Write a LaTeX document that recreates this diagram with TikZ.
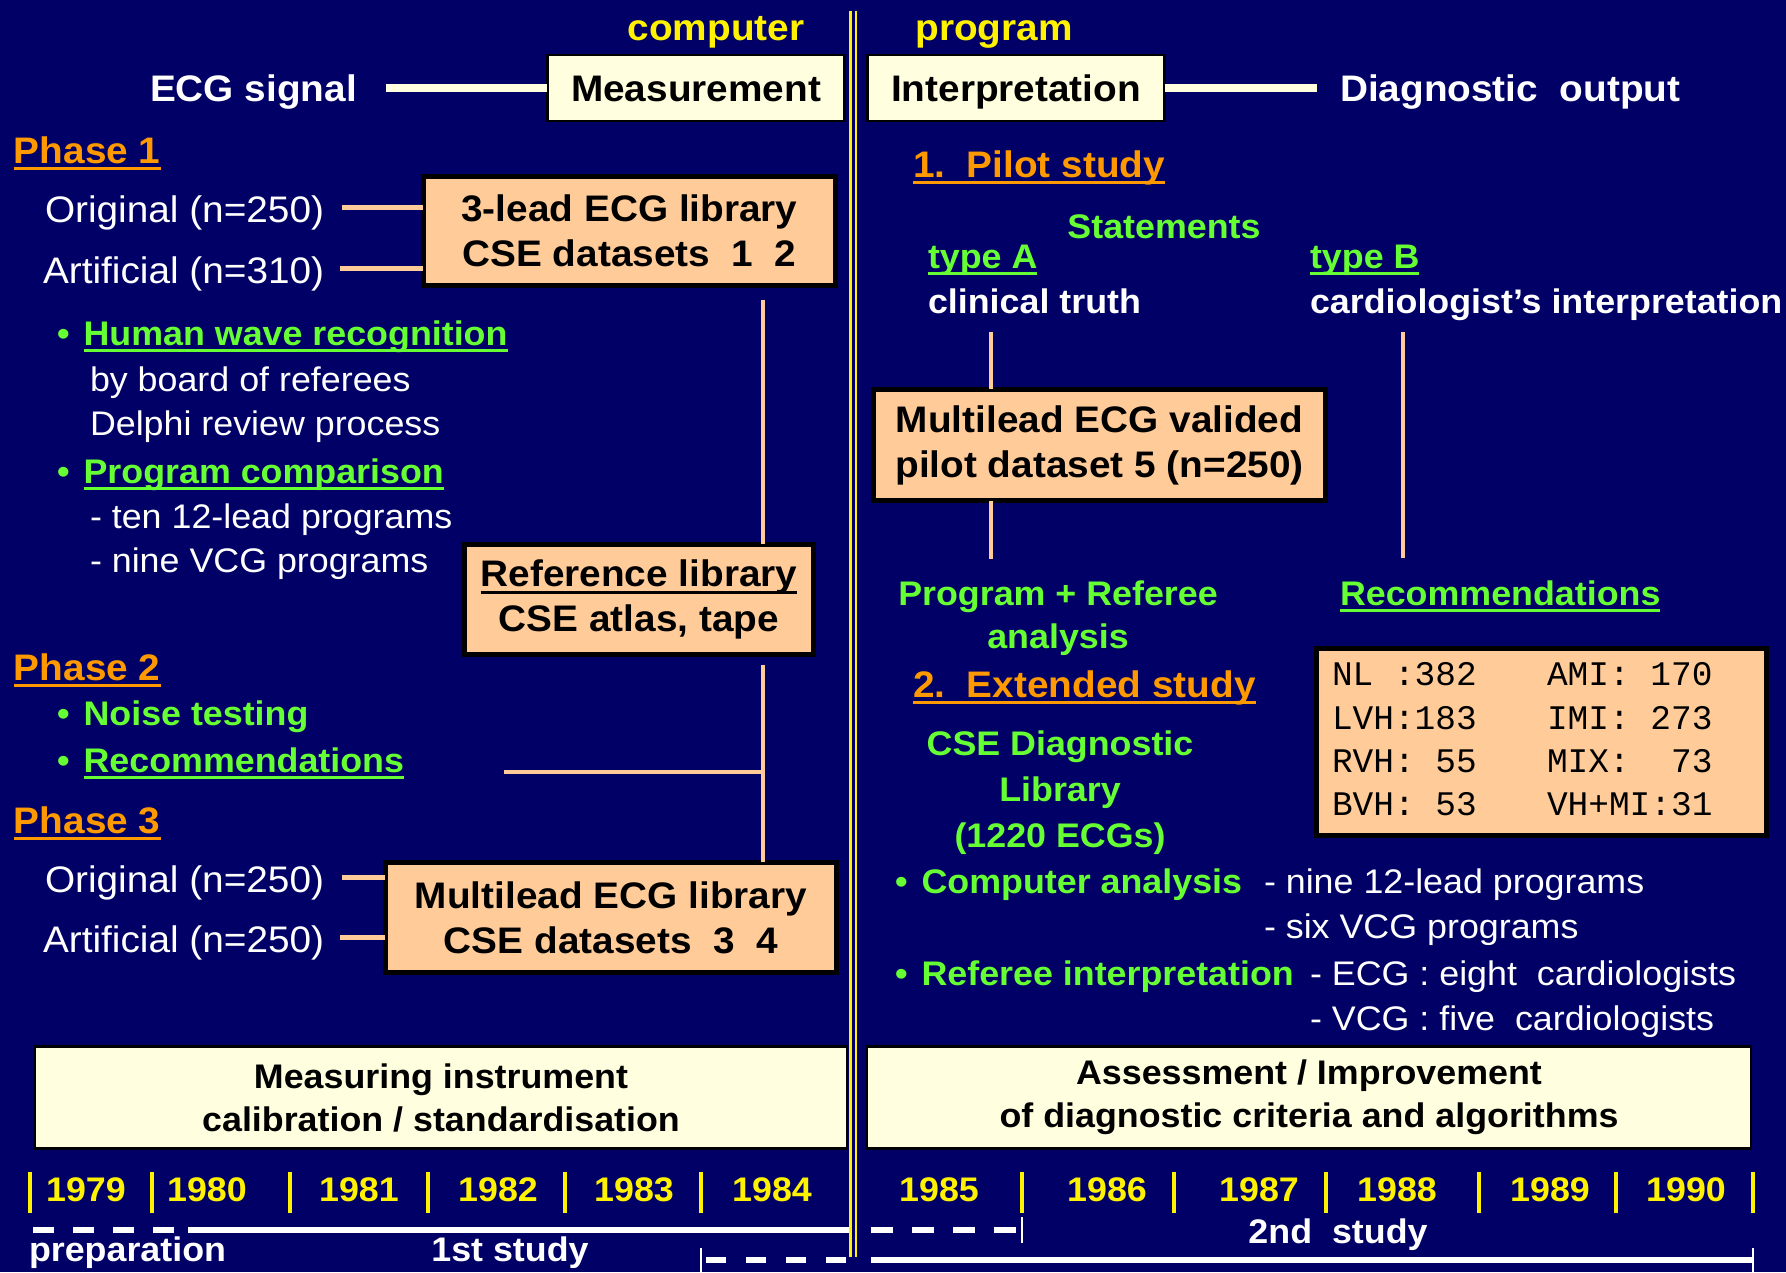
\documentclass[tikz,border=0pt]{standalone}
\usepackage{fontspec}
\setmainfont{Liberation Sans}[FakeStretch=1.05]
\setmonofont{Liberation Mono}
\usetikzlibrary{positioning,calc}

\definecolor{slidebg}{RGB}{0,0,102}
\definecolor{peach}{RGB}{255,204,153}
\definecolor{cream}{RGB}{255,255,224}
\definecolor{grn}{RGB}{102,255,51}
\definecolor{orng}{RGB}{255,153,0}

\newcommand\bigsz{\fontsize{10.5}{12.8}\selectfont}
\newcommand\smallsz{\fontsize{9.7}{12.6}\selectfont}
\newcommand\boxsz{\fontsize{9.7}{12.2}\selectfont}
\newcommand\monosz{\fontsize{9.8}{12}\selectfont\ttfamily}

\newsavebox\ulbox
\newcommand\undl[1]{\sbox\ulbox{#1}\rlap{\rule[-2.1pt]{\wd\ulbox}{0.85pt}}\usebox\ulbox}

\begin{document}
\begin{tikzpicture}[x=0.01cm,y=-0.01cm,
    every node/.style={inner sep=0pt,outer sep=0pt},
    headtxt/.style={font=\bigsz\bfseries,text=white,anchor=base west},
    tagtxt/.style={font=\bigsz\bfseries,text=yellow,anchor=base},
    phasetitle/.style={font=\bigsz\bfseries,text=orng,anchor=base west},
    whitetxt/.style={font=\smallsz,text=white,anchor=base west},
    srctxt/.style={font=\bigsz,text=white,anchor=base west,text height=8pt,text depth=0pt},
    greentxt/.style={font=\smallsz\bfseries,text=grn,anchor=base west},
    boldtxt/.style={font=\smallsz\bfseries,text=white,anchor=base west},
    stagebox/.style={draw=black,line width=0.7pt,fill=cream,font=\bigsz\bfseries,
                     minimum width=2.97cm,minimum height=0.655cm,text height=7.5pt,text depth=0pt},
    periodbox/.style={draw=black,line width=0.7pt,fill=cream,font=\boxsz\bfseries,align=center},
    libbox/.style={draw=black,line width=1.4pt,fill=peach,font=\bigsz\bfseries,align=center},
    cnttxt/.style={font=\monosz,anchor=base west},
    yeartxt/.style={font=\smallsz\bfseries,text=yellow,anchor=base},
    peachlink/.style={draw=peach,line width=1.4pt},
    creamlink/.style={draw=cream,line width=2pt},
    spanline/.style={draw=white,line width=1.6pt},
    yeartick/.style={draw=yellow,line width=1.1pt}]

  \useasboundingbox (0,0) rectangle (1786,1272);
  \fill[slidebg] (0,0) rectangle (1786,1272);

  \node[tagtxt] (comp) at (716,40) {computer};
  \node[tagtxt] (prog) at (994,40) {program};
  \node[stagebox] (meas) at (696,88) {Measurement};
  \node[stagebox] (interp) at (1016,88) {Interpretation};
  \node[headtxt] (ecg) at (150,101) {ECG signal};
  \node[headtxt] (diag) at (1340,101) {Diagnostic~ output};
  \draw[creamlink] (meas.west) -- ($(ecg.east |- meas.west)+(29,0)$);
  \draw[creamlink] (interp.east) -- ($(diag.west |- interp.east)+(-23,0)$);

  \node[phasetitle] (ph1) at (14,163) {\undl{Phase 1}};
  \node[srctxt] (orig1) at (45,222) {Original (n=250)};
  \node[srctxt] (art1) at (43,283) {Artificial (n=310)};
  \node[libbox,minimum width=4.12cm,minimum height=1.09cm] (lib12) at (629.5,231)
    {3-lead ECG library\\CSE datasets~ 1~ 2};
  \draw[peachlink] ($(orig1.east)+(18,0)$) -- (orig1.east -| lib12.west);
  \draw[peachlink] ($(art1.east)+(16,0)$) -- (art1.east -| lib12.west);

  \node[greentxt] (hwr) at (57,345) {\textbullet\hspace{4pt}\undl{Human wave recognition}};
  \node[whitetxt] (hwr1) at (90,391) {by board of referees};
  \node[whitetxt,below=0.44cm of hwr1.base west,anchor=base west] (hwr2) {Delphi review process};
  \node[greentxt] (pcmp) at (57,483) {\textbullet\hspace{4pt}\undl{Program comparison}};
  \node[whitetxt] (pcmp1) at (90,528) {- ten 12-lead programs};
  \node[whitetxt,below=0.44cm of pcmp1.base west,anchor=base west] (pcmp2) {- nine VCG programs};

  \node[libbox,minimum width=3.49cm,minimum height=1.10cm] (reflib) at (639,599.5)
    {\undl{Reference library}\\CSE atlas, tape};

  \node[phasetitle] (ph2) at (14,680) {\undl{Phase 2}};
  \node[greentxt] (noise) at (57,725) {\textbullet\hspace{4pt}Noise testing};
  \node[greentxt] (rec1) at (57,772) {\textbullet\hspace{4pt}\undl{Recommendations}};

  \node[phasetitle] (ph3) at (14,833) {\undl{Phase 3}};
  \node[srctxt] (orig3) at (45,892) {Original (n=250)};
  \node[srctxt] (art3) at (43,952) {Artificial (n=250)};
  \node[libbox,minimum width=4.51cm,minimum height=1.10cm] (lib34) at (611,917.5)
    {Multilead ECG library\\CSE datasets~ 3~ 4};
  \draw[peachlink] ($(orig3.east)+(18,0)$) -- (orig3.east -| lib34.west);
  \draw[peachlink] ($(art3.east)+(16,0)$) -- (art3.east -| lib34.west);

  \coordinate (spine) at (763,0);
  \draw[peachlink] (lib12.south -| spine) ++(0,14) -- (reflib.north -| spine);
  \draw[peachlink] (reflib.south -| spine) ++(0,10) -- (lib34.north -| spine);
  \draw[peachlink] ($(rec1.base east)+(100,0)$) -- (rec1.base east -| spine);

  \node[phasetitle] (st1) at (913,177) {\undl{1.~~Pilot study}};
  \node[greentxt,anchor=base] (stmt) at (1164,238) {Statements};
  \node[greentxt] (typeA) at (928,268) {\undl{type A}};
  \node[greentxt] (typeB) at (1310,268) {\undl{type B}};
  \node[boldtxt] (truthA) at (928,313) {clinical truth};
  \node[boldtxt] (truthB) at (1310,313) {cardiologist's interpretation};

  \node[libbox,minimum width=4.52cm,minimum height=1.11cm] (lib5) at (1099.5,445)
    {Multilead ECG valided\\pilot dataset 5 (n=250)};
  \node[greentxt,align=center,anchor=base,font=\fontsize{9.7}{12.2}\selectfont\bfseries] (progref) at (1058,648)
    {Program + Referee\\analysis};
  \node[greentxt] (rec2) at (1340,605) {\undl{Recommendations}};

  \coordinate (colA) at (991,0);
  \coordinate (colB) at (1403,0);
  \draw[peachlink] (truthA.base -| colA) ++(0,19) -- (lib5.north -| colA);
  \draw[peachlink] (lib5.south -| colA) -- ($(progref.north -| colA)+(0,-21)$);
  \draw[peachlink] (truthB.base -| colB) ++(0,19) -- ($(rec2.north -| colB)+(0,-22)$);

  \node[phasetitle] (st2) at (913,697) {\undl{2.~~Extended study}};
  \node[greentxt,align=center,anchor=base,font=\fontsize{9.7}{13}\selectfont\bfseries] (cselib) at (1060,847)
    {CSE Diagnostic\\Library\\(1220 ECGs)};

  \node[libbox,minimum width=4.50cm,minimum height=1.87cm] (counts) at (1541.5,742) {};
  \foreach \yy/\ca/\cb [count=\i] in {685/NL :382/AMI: 170, 729/LVH:183/IMI: 273,
                                      772/RVH: 55/MIX:~~73, 815/BVH: 53/VH+MI:31} {
    \node[cnttxt] (cnta\i) at (1332,\yy) {\ca};
    \node[cnttxt] (cntb\i) at (1547,\yy) {\cb};
  }

  \node[greentxt] (cana) at (895,893) {\textbullet\hspace{4pt}Computer analysis};
  \node[whitetxt] (cana1) at (1264,893) {- nine 12-lead programs};
  \node[whitetxt,below=0.45cm of cana1.base west,anchor=base west] (cana2) {- six VCG programs};
  \node[greentxt] (rint) at (895,985) {\textbullet\hspace{4pt}Referee interpretation};
  \node[whitetxt] (rint1) at (1310,985) {- ECG : eight~ cardiologists};
  \node[whitetxt,below=0.45cm of rint1.base west,anchor=base west] (rint2) {- VCG : five~ cardiologists};

  \node[periodbox,minimum width=8.11cm,minimum height=1.02cm] (calib) at (441,1097.5)
    {Measuring instrument\\calibration / standardisation};
  \node[periodbox,minimum width=8.83cm,minimum height=1.02cm] (assess) at (1309,1097.5)
    {Assessment / Improvement\\of diagnostic criteria and algorithms};

  \foreach \x/\yr in {86/1979,207/1980,359/1981,498/1982,634/1983,772/1984,
                      939/1985,1107/1986,1259/1987,1397/1988,1550/1989,1686/1990}
    \node[yeartxt] (yr\yr) at (\x,1201) {\yr};
  \foreach \x in {30,152,290,428,565,701,1022,1174,1326,1479,1616,1753}
    \draw[yeartick] (\x,1172) -- (\x,1213);

  \draw[spanline,dash pattern=on 0.21cm off 0.19cm] (33,1230) -- (176,1230);
  \draw[spanline] (188,1230) -- (850,1230);
  \draw[spanline,dash pattern=on 0.22cm off 0.19cm] (871,1230) -- (1016,1230);
  \draw[spanline,line width=0.7pt] (1022,1217) -- (1022,1243);
  \draw[spanline,line width=0.7pt] (701,1248) -- (701,1275);
  \draw[spanline,dash pattern=on 0.2cm off 0.2cm] (706,1260) -- (856,1260);
  \draw[spanline] (871,1260) -- (1753,1260);
  \draw[spanline,line width=0.7pt] (1753,1248) -- (1753,1275);

  \node[boldtxt] (prep) at (29,1261) {preparation};
  \node[boldtxt,anchor=base] (study1) at (510,1261) {1st study};
  \node[boldtxt,anchor=base] (study2) at (1338,1243) {2nd~ study};

  \draw[yellow,line width=2.3pt] (853.3,11) -- (853.3,1257);
  \draw[slidebg,line width=0.85pt] (853.3,11) -- (853.3,1257);

\end{tikzpicture}
\end{document}
